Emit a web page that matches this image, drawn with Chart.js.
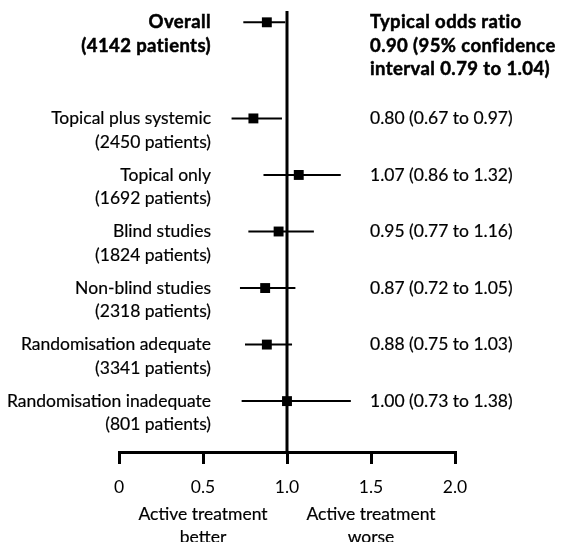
<!DOCTYPE html>
<html>
<head>
<meta charset="utf-8">
<script src="https://cdn.jsdelivr.net/npm/chart.js@4.4.1/dist/chart.umd.min.js"></script>
<style>
  html, body { margin: 0; padding: 0; background: #fff; }
  #forest { display: block; }
</style>
</head>
<body>
<canvas id="forest" width="568" height="542"></canvas>
<script>
/* forest plot: odds ratios by subgroup */

const groupNames = ["Overall", "Topical plus systemic", "Topical only", "Blind studies", "Non-blind studies", "Randomisation adequate", "Randomisation inadequate"];
const patientCounts = [4142, 2450, 1692, 1824, 2318, 3341, 801];
const rowIndex = [0, 1.7, 2.7, 3.7, 4.7, 5.7, 6.7];
const oddsRatio = [0.88, 0.80, 1.07, 0.95, 0.87, 0.88, 1.00];
const ciLow = [0.74, 0.67, 0.86, 0.77, 0.72, 0.75, 0.73];
const ciHigh = [0.99, 0.97, 1.32, 1.16, 1.05, 1.03, 1.38];
const resultText = [
  ["Typical odds ratio", "0.90 (95% confidence", "interval 0.79 to 1.04)"],
  ["0.80 (0.67 to 0.97)"],
  ["1.07 (0.86 to 1.32)"],
  ["0.95 (0.77 to 1.16)"],
  ["0.87 (0.72 to 1.05)"],
  ["0.88 (0.75 to 1.03)"],
  ["1.00 (0.73 to 1.38)"],
];
const tickValues = [0, 0.5, 1.0, 1.5, 2.0];
const tickLabels = ["0", "0.5", "1.0", "1.5", "2.0"];
const refValue = 1.0;
const sideLabels = [
  { at: 0.5, lines: ["Active treatment", "better"] },
  { at: 1.5, lines: ["Active treatment", "worse"] },
];

const FONT = "Lato, 'Open Sans', sans-serif";
const INK = "#000";
const REG = "17.5px " + FONT;
const BOLD = "bold 18.5px " + FONT;

// one line dataset per confidence interval
const ciSets = rowIndex.map((r, i) => ({
  type: "line",
  data: [{ x: ciLow[i], y: r }, { x: ciHigh[i], y: r }],
  borderColor: INK,
  borderWidth: 2,
  pointRadius: 0,
  order: 2,
}));

const pointSet = {
  type: "scatter",
  data: rowIndex.map((r, i) => ({ x: oddsRatio[i], y: r })),
  pointStyle: "rect",
  pointRadius: 7,
  backgroundColor: INK,
  borderColor: INK,
  borderWidth: 0,
  order: 1,
};

function ink(ctx, text, x, y, bold) {
  ctx.font = bold ? BOLD : REG;
  ctx.letterSpacing = bold ? "0.4px" : "0px";
  ctx.fillText(text, x, y);
  ctx.lineWidth = bold ? 0.5 : 0.2;
  ctx.strokeText(text, x, y);
}

const forestText = {
  id: "forestText",
  beforeDatasetsDraw(chart) {
    const { ctx, chartArea, scales: { x } } = chart;
    // line of no effect
    const xr = x.getPixelForValue(refValue);
    ctx.save();
    ctx.strokeStyle = INK;
    ctx.lineWidth = 3;
    ctx.beginPath();
    ctx.moveTo(xr, chartArea.top);
    ctx.lineTo(xr, chartArea.bottom);
    ctx.stroke();
    ctx.restore();
  },
  afterDraw(chart) {
    const { ctx, scales: { x, y } } = chart;
    const lineH = 23.5;
    ctx.save();
    ctx.fillStyle = INK;
    ctx.strokeStyle = INK;
    ctx.textBaseline = "middle";
    rowIndex.forEach((r, i) => {
      const py = y.getPixelForValue(r);
      const bold = i === 0;
      ctx.textAlign = "right";
      ink(ctx, groupNames[i], 211, py, bold);
      ink(ctx, "(" + patientCounts[i] + " patients)", 211, py + lineH, bold);
      ctx.textAlign = "left";
      resultText[i].forEach((t, k) => ink(ctx, t, 370, py + k * lineH, bold));
    });
    ctx.textAlign = "center";
    sideLabels.forEach((s) => {
      const px = x.getPixelForValue(s.at);
      s.lines.forEach((t, k) => ink(ctx, t, px, 514 + k * 23, false));
    });
    ctx.restore();
  },
};

new Chart(document.getElementById("forest"), {
  data: { datasets: [...ciSets, pointSet] },
  options: {
    responsive: false,
    animation: false,
    layout: { padding: { left: 119, right: 113, top: 11, bottom: 0 } },
    plugins: { legend: { display: false }, tooltip: { enabled: false } },
    scales: {
      x: {
        type: "linear",
        min: 0,
        max: 2,
        afterBuildTicks: (s) => { s.ticks = tickValues.map((v) => ({ value: v })); },
        afterFit: (s) => { s.height = 90; },
        grid: { drawOnChartArea: false, drawTicks: true, tickLength: 12, lineWidth: 3, color: INK },
        border: { display: true, width: 3, color: INK },
        ticks: {
          color: INK,
          padding: 13,
          font: { family: FONT, size: 17.5 },
          callback: (v, i) => tickLabels[i],
        },
      },
      y: {
        type: "linear",
        display: false,
        reverse: true,
        min: -0.2,
        max: 7.6,
      },
    },
  },
  plugins: [forestText],
});
</script>
</body>
</html>
